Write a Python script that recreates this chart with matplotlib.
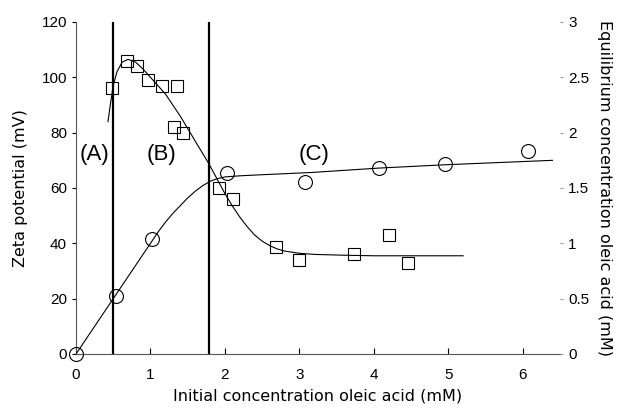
import matplotlib
matplotlib.use("Agg")
import matplotlib.pyplot as plt

plt.rcParams['font.family'] = ['Liberation Sans', 'DejaVu Sans']

# Zeta potential (squares, left axis)
zeta_x = [0.49, 0.69, 0.82, 0.97, 1.16, 1.36, 1.31, 1.44, 1.92, 2.11, 2.68, 3.0, 3.73, 4.2, 4.46]
zeta_y = [96, 106, 104, 99, 97, 97, 82, 80, 60, 56, 38.5, 34, 36, 43, 33]

# fitted curve through zeta data
zeta_fit_x = [0.43, 0.46, 0.5, 0.55, 0.62, 0.7, 0.8, 0.9, 1.0, 1.2, 1.4, 1.6, 1.78, 1.9, 2.0, 2.1, 2.2, 2.3, 2.4, 2.5, 2.6, 2.7, 2.8, 3.0, 3.2, 3.6, 4.0, 5.2]
zeta_fit_y = [84, 90, 97, 102, 105.5, 106.5, 105.5, 103, 100, 94, 86, 77, 69, 63, 58, 53.5, 49.5, 46, 43, 40.8, 39.2, 38, 37.2, 36.4, 36, 35.7, 35.5, 35.5]

# Equilibrium concentration (circles, right axis)
eq_x = [0, 0.54, 1.02, 2.03, 3.07, 4.07, 4.96, 6.07]
eq_y = [0, 0.52, 1.04, 1.64, 1.55, 1.68, 1.72, 1.83]

eq_fit_x = [0, 0.5, 1.0, 1.1, 1.2, 1.3, 1.4, 1.5, 1.6, 1.7, 1.8, 1.9, 2.0, 2.2, 2.5, 3.16, 4.07, 4.96, 6.4]
eq_fit_y = [0, 0.5, 1.0, 1.1, 1.19, 1.27, 1.34, 1.41, 1.47, 1.52, 1.56, 1.585, 1.6, 1.61, 1.62, 1.64, 1.68, 1.71, 1.75]

region_lines = [0.5, 1.78]
region_labels = ['(A)', '(B)', '(C)']
region_label_x = [0.25, 1.15, 3.2]

fig = plt.figure(figsize=(6.18, 4.15), dpi=100)
ax = fig.add_axes([0.123, 0.147, 0.783, 0.8])
ax2 = ax.twinx()

ax.plot(zeta_fit_x, zeta_fit_y, color='black', lw=0.8)
ax.plot(zeta_x, zeta_y, 's', mfc='none', mec='black', ms=9, mew=0.8)
for xv in region_lines:
    ax.plot([xv, xv], [0, 120], color='black', lw=1.6)
for lab, lx in zip(region_labels, region_label_x):
    ax.text(lx, 72, lab, fontsize=16, ha='center', va='center')

ax2.plot(eq_fit_x, eq_fit_y, color='black', lw=0.8)
ax2.plot(eq_x, eq_y, 'o', mfc='none', mec='black', ms=10, mew=0.8, clip_on=False)

ax.set_xlim(0, 6.5)
ax.set_ylim(0, 120)
ax2.set_ylim(0, 3)
ax.set_xticks([0, 1, 2, 3, 4, 5, 6])
ax.set_yticks([0, 20, 40, 60, 80, 100, 120])
ax2.set_yticks([0, 0.5, 1, 1.5, 2, 2.5, 3])
ax2.set_yticklabels(['0', '0.5', '1', '1.5', '2', '2.5', '3'])

for a in (ax, ax2):
    a.spines['top'].set_visible(False)
    a.spines['right'].set_visible(False)
ax2.spines['left'].set_visible(False)
ax2.spines['bottom'].set_visible(False)
ax.spines['left'].set_linewidth(0.8)
ax.spines['left'].set_color('#555555')
ax.spines['bottom'].set_linewidth(0.8)
ax.spines['bottom'].set_color('#555555')

ax.tick_params(axis='x', direction='in', length=4, labelsize=11, pad=10)
ax.tick_params(axis='y', direction='out', length=3, labelsize=11)
ax2.tick_params(axis='y', direction='out', length=2, labelsize=11, pad=4, color='#999999')

lab_font = dict(family='DejaVu Sans', size=11.5)
ax.set_xlabel('Initial concentration oleic acid (mM)', fontdict=lab_font, labelpad=5)
ax.set_ylabel('Zeta potential (mV)', fontdict=lab_font, labelpad=10)
ax2.set_ylabel('Equilibrium concentration oleic acid (mM)', fontdict=lab_font, rotation=270, labelpad=16)

fig.savefig('out.png', dpi=100)
